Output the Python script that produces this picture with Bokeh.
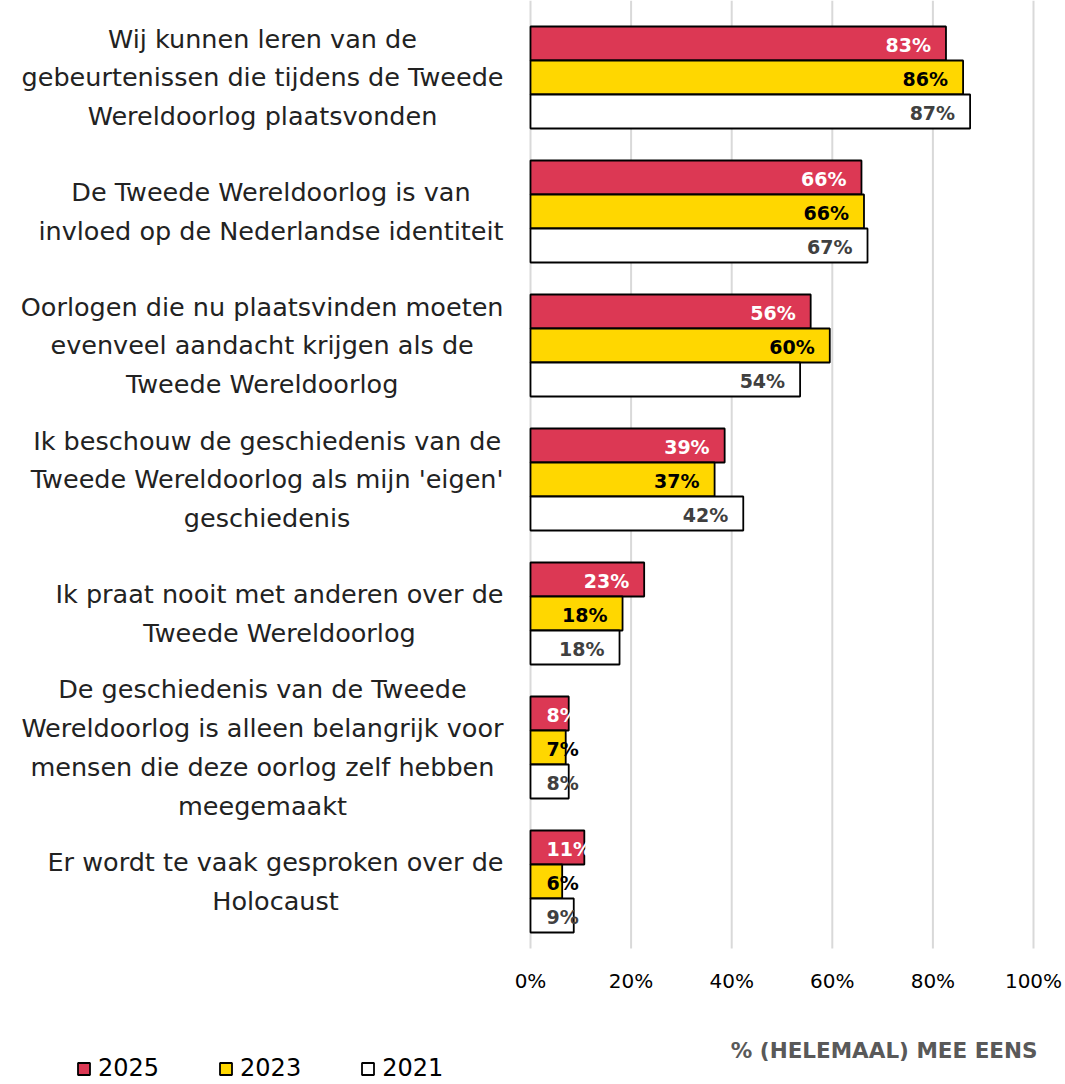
from bokeh.plotting import figure
from bokeh.models import Range1d, Legend, LegendItem, ColumnDataSource
from bokeh.core.properties import value
from bokeh.embed import file_html
from bokeh.resources import INLINE

categories = [
    "Wij kunnen leren van de\ngebeurtenissen die tijdens de Tweede\nWereldoorlog plaatsvonden",
    "De Tweede Wereldoorlog is van\ninvloed op de Nederlandse identiteit",
    "Oorlogen die nu plaatsvinden moeten\nevenveel aandacht krijgen als de\nTweede Wereldoorlog",
    "Ik beschouw de geschiedenis van de\nTweede Wereldoorlog als mijn 'eigen'\ngeschiedenis",
    "Ik praat nooit met anderen over de\nTweede Wereldoorlog",
    "De geschiedenis van de Tweede\nWereldoorlog is alleen belangrijk voor\nmensen die deze oorlog zelf hebben\nmeegemaakt",
    "Er wordt te vaak gesproken over de\nHolocaust",
]
series_names = ["2025", "2023", "2021"]
v2025 = [82.6, 65.8, 55.7, 38.6, 22.6, 7.6, 10.7]
v2023 = [86.0, 66.3, 59.5, 36.6, 18.3, 7.0, 6.3]
v2021 = [87.4, 67.0, 53.6, 42.3, 17.7, 7.6, 8.6]
x_ticks = [0, 20, 40, 60, 80, 100]
x_tick_labels = ["0%", "20%", "40%", "60%", "80%", "100%"]
axis_title = "% (HELEMAAL) MEE EENS"

series_values = [v2025, v2023, v2021]
fills = ["#DC3854", "#FFD700", "#FFFFFF"]
label_colors = ["#FFFFFF", "#000000", "#404040"]

FONT = "DejaVu Sans"

W, H = 1065, 1084
PX = 5.03            # pixels per percent
X0 = 530             # pixel position of 0%
GAP = 134            # pixels per category
Y0 = 77              # pixel position of first category centre

p = figure(width=W, height=H, output_backend="svg", toolbar_location=None,
           x_range=Range1d(-X0 / PX, (W - X0) / PX),
           y_range=Range1d((H - Y0) / GAP, -Y0 / GAP),
           min_border=0)
p.outline_line_color = None
p.axis.visible = False
p.grid.visible = False
p.background_fill_color = "white"
p.border_fill_color = "white"

n = len(categories)
grid_bottom = n - 0.5
p.segment(x0=x_ticks, x1=x_ticks, y0=p.y_range.end, y1=grid_bottom,
          line_color="#D9D9D9", line_width=2)

bar_h = 34 / GAP
offsets = [-bar_h, 0, bar_h]
items = []
for vals, fc, lc, off, nm in zip(series_values, fills, label_colors, offsets, series_names):
    ys = [i + off for i in range(n)]
    src = ColumnDataSource(dict(y=ys, right=vals))
    r = p.hbar(y="y", right="right", left=0, height=bar_h, source=src,
               fill_color=fc, line_color="#000000", line_width=1.8)
    items.append(LegendItem(label=nm, renderers=[r]))
    big = [(v, y, f"{round(v)}%") for v, y in zip(vals, ys) if v >= 13]
    small = [(0, y, f"{round(v)}%") for v, y in zip(vals, ys) if v < 13]
    p.text(x=[b[0] for b in big], y=[b[1] for b in big], text=[b[2] for b in big],
           text_align="right", text_baseline="middle", x_offset=-15, y_offset=1,
           text_font=value(FONT), text_font_style="bold", text_font_size="19px", text_color=lc)
    p.text(x=[b[0] for b in small], y=[b[1] for b in small], text=[b[2] for b in small],
           text_align="left", text_baseline="middle", x_offset=16, y_offset=1,
           text_font=value(FONT), text_font_style="bold", text_font_size="19px", text_color=lc)

# category labels (centred lines, block right-aligned next to the axis)
p.text(x=[0] * n, y=list(range(n)), text=categories, x_offset=-27,
       text_align="center", anchor="center_right", text_baseline="middle",
       text_font=value(FONT), text_font_size="25.5px", text_color="#222222",
       text_line_height=1.29)

# x tick labels
tick_y = (980 - Y0) / GAP
p.text(x=x_ticks, y=[tick_y] * len(x_ticks), text=x_tick_labels,
       text_align="center", text_baseline="middle",
       text_font=value(FONT), text_font_size="20px", text_color="#000000")

# axis title
title_y = (1050 - Y0) / GAP
p.text(x=[100], y=[title_y], text=[axis_title], x_offset=4,
       text_align="right", text_baseline="middle",
       text_font=value(FONT), text_font_style="bold", text_font_size="21.5px",
       text_color="#595959")

legend = Legend(items=items, orientation="horizontal", location=(76, 2),
                label_text_font=FONT, label_text_font_size="24px", label_text_color="#000000",
                glyph_width=15, glyph_height=15, spacing=59, padding=0, margin=0,
                label_standoff=7, label_height=24, border_line_color=None,
                background_fill_alpha=0)
p.add_layout(legend, "center")

open("out.html", "w").write(file_html(p, INLINE))
